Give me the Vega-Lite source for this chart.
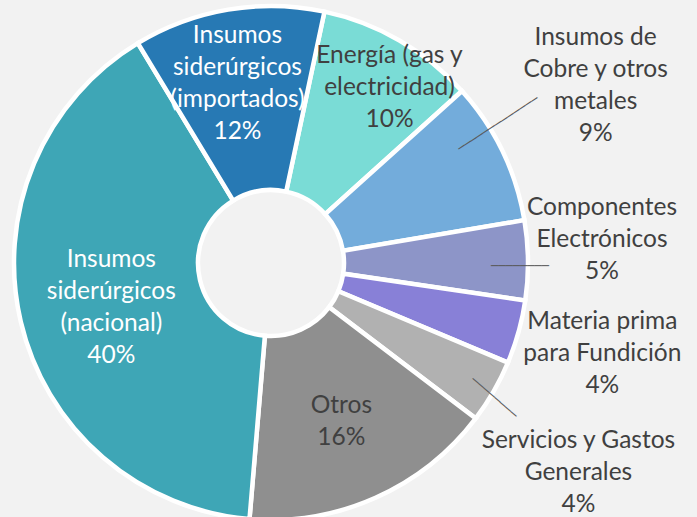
{
  "$schema": "https://vega.github.io/schema/vega-lite/v6.json",
  "width": 542,
  "height": 508,
  "autosize": "none",
  "padding": {"left": 0, "top": 9, "right": 155, "bottom": 0},
  "background": "#f2f2f2",
  "config": {"view": {"stroke": null}, "text": {"font": "Lato", "fontSize": 24.5, "lineHeight": 32, "lineBreak": "\n", "align": "center", "baseline": "middle"}},
  "data": {"values": [
    {"ord": 1, "cat": "Energía (gas y electricidad)", "value": 10, "label": "Energía (gas y\nelectricidad)\n10%"},
    {"ord": 2, "cat": "Insumos de Cobre y otros metales", "value": 9, "label": "Insumos de\nCobre y otros\nmetales\n9%"},
    {"ord": 3, "cat": "Componentes Electrónicos", "value": 5, "label": "Componentes\nElectrónicos\n5%"},
    {"ord": 4, "cat": "Materia prima para Fundición", "value": 4, "label": "Materia prima\npara Fundición\n4%"},
    {"ord": 5, "cat": "Servicios y Gastos Generales", "value": 4, "label": "Servicios y Gastos\nGenerales\n4%"},
    {"ord": 6, "cat": "Otros", "value": 16, "label": "Otros\n16%"},
    {"ord": 7, "cat": "Insumos siderúrgicos (nacional)", "value": 40, "label": "Insumos\nsiderúrgicos\n(nacional)\n40%"},
    {"ord": 8, "cat": "Insumos siderúrgicos (importados)", "value": 12, "label": "Insumos\nsiderúrgicos\n(importados)\n12%"}
  ]},
  "encoding": {
    "theta": {"field": "value", "type": "quantitative", "stack": true, "scale": {"range": [0.20944, 6.49262]}},
    "order": {"field": "ord", "type": "quantitative", "sort": "ascending"}
  },
  "layer": [
    {
      "mark": {"type": "arc", "radius": 257, "innerRadius": 73, "stroke": "white", "strokeWidth": 4.5},
      "encoding": {
        "color": {"field": "cat", "type": "nominal", "legend": null,
          "scale": {
            "domain": ["Energía (gas y electricidad)", "Insumos de Cobre y otros metales", "Componentes Electrónicos", "Materia prima para Fundición", "Servicios y Gastos Generales", "Otros", "Insumos siderúrgicos (nacional)", "Insumos siderúrgicos (importados)"],
            "range": ["#7adcd6", "#73acdb", "#8d95c8", "#8880d7", "#b1b1b1", "#8f8f8f", "#3ea6b6", "#2779b4"]
          }}
      }
    },
    {
      "mark": {"type": "text", "radius": 205, "dx": 16, "dy": -29, "color": "#404040"},
      "encoding": {"text": {"condition": {"test": "datum.ord === 1", "field": "label"}, "value": ""}}
    },
    {
      "mark": {"type": "text", "radius": 365, "dx": -4, "dy": -66, "color": "#404040"},
      "encoding": {"text": {"condition": {"test": "datum.ord === 2", "field": "label"}, "value": ""}}
    },
    {
      "mark": {"type": "text", "radius": 331, "dy": -52, "color": "#404040"},
      "encoding": {"text": {"condition": {"test": "datum.ord === 3", "field": "label"}, "value": ""}}
    },
    {
      "mark": {"type": "text", "radius": 344, "dy": -34, "color": "#404040"},
      "encoding": {"text": {"condition": {"test": "datum.ord === 4", "field": "label"}, "value": ""}}
    },
    {
      "mark": {"type": "text", "radius": 355, "dy": 1, "color": "#404040"},
      "encoding": {"text": {"condition": {"test": "datum.ord === 5", "field": "label"}, "value": ""}}
    },
    {
      "mark": {"type": "text", "radius": 173, "dy": -15, "color": "#404040"},
      "encoding": {"text": {"condition": {"test": "datum.ord === 6", "field": "label"}, "value": ""}}
    },
    {
      "mark": {"type": "text", "radius": 164, "dy": -40, "color": "#ffffff"},
      "encoding": {"text": {"condition": {"test": "datum.ord === 7", "field": "label"}, "value": ""}}
    },
    {
      "mark": {"type": "text", "radius": 183, "dx": -3, "dy": -47, "color": "#ffffff"},
      "encoding": {"text": {"condition": {"test": "datum.ord === 8", "field": "label"}, "value": ""}}
    },
    {
      "mark": {"type": "text", "radius": 266, "dx": 2.5, "dy": -26.7, "angle": 326.8, "font": "DejaVu Sans Mono", "fontSize": 12, "color": "#595959"},
      "encoding": {"text": {"condition": {"test": "datum.ord === 2", "value": "─────────────"}, "value": ""}}
    },
    {
      "mark": {"type": "text", "radius": 249, "dy": 6, "angle": 0, "font": "DejaVu Sans Mono", "fontSize": 12, "color": "#595959"},
      "encoding": {"text": {"condition": {"test": "datum.ord === 3", "value": "────────"}, "value": ""}}
    },
    {
      "mark": {"type": "text", "radius": 260, "dx": 1.7, "dy": 4.5, "angle": 40.9, "font": "DejaVu Sans Mono", "fontSize": 12, "color": "#595959"},
      "encoding": {"text": {"condition": {"test": "datum.ord === 5", "value": "────────"}, "value": ""}}
    }
  ]
}
